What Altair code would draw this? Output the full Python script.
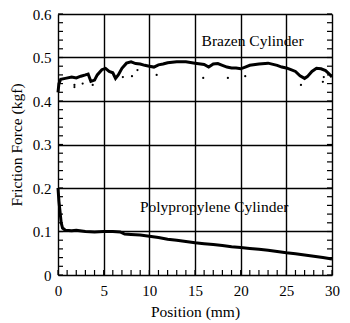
import altair as alt
import pandas as pd

# Brazen cylinder (main trace)
brazen_x = [0.0, 0.1, 0.3, 0.8, 1.5, 2.0, 2.5, 3.0, 3.3, 3.6, 4.0, 4.3, 4.8, 5.2, 5.6, 6.0, 6.3, 6.6,
            7.0, 7.5, 8.0, 8.5, 9.0, 9.5, 10.0, 10.5, 11.0, 11.5, 12.0, 13.0, 14.0, 15.0, 16.0, 16.5,
            17.0, 17.5, 18.0, 18.5, 19.0, 19.5, 20.0, 20.5, 21.0, 22.0, 23.0, 24.0, 24.5, 25.0, 25.5,
            26.0, 26.5, 27.0, 27.3, 27.8, 28.3, 28.8, 29.3, 29.7, 30.0]
brazen_y = [0.42, 0.44, 0.45, 0.452, 0.455, 0.453, 0.457, 0.46, 0.462, 0.445, 0.448, 0.46, 0.472, 0.475,
            0.468, 0.465, 0.452, 0.46, 0.475, 0.487, 0.49, 0.486, 0.485, 0.482, 0.48, 0.478, 0.483, 0.485,
            0.488, 0.49, 0.49, 0.487, 0.484, 0.478, 0.485, 0.486, 0.482, 0.478, 0.476, 0.476, 0.474, 0.478,
            0.482, 0.485, 0.487, 0.482, 0.478, 0.476, 0.472, 0.468, 0.458, 0.452, 0.456, 0.468, 0.475,
            0.474, 0.47, 0.462, 0.455]
# Brazen scattered points
brazen_dot_x = [1.8, 2.7, 3.8, 1.8, 7.1, 8.1, 8.7, 10.8, 15.9, 18.6, 20.5, 26.6, 29.1, 29.0]
brazen_dot_y = [0.437, 0.44, 0.437, 0.432, 0.455, 0.457, 0.471, 0.46, 0.453, 0.453, 0.457, 0.437, 0.455, 0.444]

# Polypropylene cylinder
poly_x = [0.0, 0.1, 0.2, 0.35, 0.5, 0.8, 1.5, 2.0, 3.0, 4.0, 5.0, 6.0, 6.8, 7.3, 8.0, 9.0, 10.0, 11.0,
          12.0, 13.0, 14.0, 15.0, 16.0, 17.0, 18.0, 19.0, 20.0, 21.0, 22.0, 23.0, 24.0, 25.0, 26.0,
          27.0, 28.0, 29.0, 30.0]
poly_y = [0.20, 0.17, 0.15, 0.12, 0.108, 0.103, 0.102, 0.103, 0.1, 0.099, 0.1, 0.1, 0.099, 0.094, 0.093,
          0.092, 0.089, 0.086, 0.082, 0.08, 0.077, 0.074, 0.072, 0.07, 0.068, 0.065, 0.063, 0.061, 0.059,
          0.057, 0.054, 0.051, 0.049, 0.046, 0.043, 0.040, 0.037]

label_text = ["Brazen Cylinder", "Polypropylene Cylinder"]
label_x = [21.3, 17.1]
label_y = [0.538, 0.156]

x_major = [0, 5, 10, 15, 20, 25, 30]
y_major = [0, 0.1, 0.2, 0.3, 0.4, 0.5, 0.6]
x_minor = [i for i in range(0, 31)]
y_minor = [round(i * 0.02, 2) for i in range(0, 31)]

FONT = "Liberation Serif"

xs = alt.Scale(domain=[0, 30], nice=False, zero=False)
ys = alt.Scale(domain=[0, 0.6], nice=False, zero=False)

xaxis = alt.Axis(values=x_major, title="Position (mm)", grid=True, gridColor="black", gridWidth=1.4,
                 gridOpacity=1, domain=False, ticks=False, labelPadding=8, labelFont=FONT, labelFontSize=15,
                 titleFont=FONT, titleFontSize=15.5, titleFontWeight="normal", titleColor="black",
                 labelColor="black", titlePadding=6, labelFlush=False)
yaxis = alt.Axis(values=y_major, title="Friction Force (kgf)", grid=True, gridColor="black", gridWidth=1.4,
                 gridOpacity=1, domain=False, ticks=False, labelPadding=7, labelFont=FONT, labelFontSize=15,
                 titleFont=FONT, titleFontSize=15.5, titleFontWeight="normal", titleColor="black",
                 labelColor="black", titlePadding=8, format=".1~f")

df_b = pd.DataFrame({"x": brazen_x, "y": brazen_y})
df_bd = pd.DataFrame({"x": brazen_dot_x, "y": brazen_dot_y})
df_p = pd.DataFrame({"x": poly_x, "y": poly_y})
df_l = pd.DataFrame({"t": label_text, "x": label_x, "y": label_y})
df_xm = pd.DataFrame({"x": x_minor})
df_ym = pd.DataFrame({"y": y_minor})

base_b = alt.Chart(df_b).mark_line(color="black", strokeWidth=3).encode(
    x=alt.X("x:Q", scale=xs, axis=xaxis), y=alt.Y("y:Q", scale=ys, axis=yaxis))
dots_b = alt.Chart(df_bd).mark_point(filled=True, color="black", size=5, opacity=1).encode(
    x=alt.X("x:Q", scale=xs), y=alt.Y("y:Q", scale=ys))
line_p = alt.Chart(df_p).mark_line(color="black", strokeWidth=3).encode(
    x=alt.X("x:Q", scale=xs), y=alt.Y("y:Q", scale=ys))
labels = alt.Chart(df_l).mark_text(font=FONT, fontSize=15.5, color="black").encode(
    x=alt.X("x:Q", scale=xs), y=alt.Y("y:Q", scale=ys), text="t:N")
ticks_bottom = alt.Chart(df_xm).mark_rule(color="black", strokeWidth=1.2).encode(
    x=alt.X("x:Q", scale=xs), y=alt.value(261), y2=alt.value(256))
ticks_left = alt.Chart(df_ym).mark_rule(color="black", strokeWidth=1.2).encode(
    y=alt.Y("y:Q", scale=ys), x=alt.value(0), x2=alt.value(5))
ticks_right = alt.Chart(df_ym).mark_rule(color="black", strokeWidth=1.2).encode(
    y=alt.Y("y:Q", scale=ys), x=alt.value(274), x2=alt.value(269))

chart = alt.layer(ticks_bottom, ticks_left, ticks_right, base_b, dots_b, line_p, labels).properties(
    width=274, height=261,
    autosize=alt.AutoSizeParams(type="none"),
    padding={"left": 50, "top": 6, "right": 10, "bottom": 48},
).configure_view(stroke="black", strokeWidth=2).configure(background="white")

chart.save("out.html", embed_options={"renderer": "svg", "actions": False})
